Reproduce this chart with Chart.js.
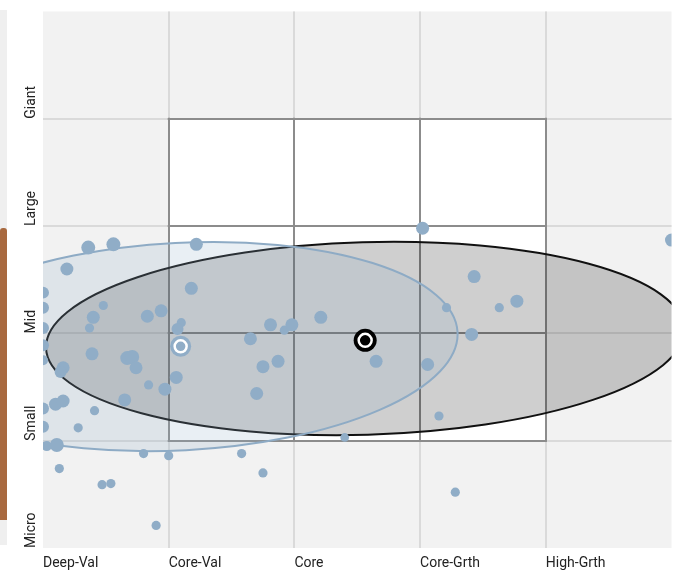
<!DOCTYPE html>
<html><head><meta charset="utf-8">
<script src="https://cdn.jsdelivr.net/npm/chart.js@4.4.1/dist/chart.umd.min.js"></script>
<style>
html,body{margin:0;padding:0;background:#fff;}
#wrap{position:relative;width:683px;height:573px;overflow:hidden;}
#strip{position:absolute;left:0;top:10px;width:7px;height:535px;background:#efefef;}
#strip2{position:absolute;left:0;top:228px;width:7px;height:292px;background:#a8693f;border-radius:3px 3px 0 0;}
canvas{position:absolute;left:0;top:0;}
</style></head><body>
<div id="wrap"><div id="strip"></div><div id="strip2"></div><canvas id="c" width="683" height="573"></canvas></div>
<script>
// ---- data ----
const styleLabels = ['Deep-Val', 'Core-Val', 'Core', 'Core-Grth', 'High-Grth'];
const sizeLabels = ['Micro', 'Small', 'Mid', 'Large', 'Giant'];
const holdingsX = [36, 56, 122, 19, 0, 0, 0, 118, 48, 40, 37, 83, 94, 110, 107, 0, 0, 39, 67, 71, 74, 16, 14, 84, 106, 97, 65, 10, 16, 0, 41, 0, 28, 3, 11, 80, 100, 13, 47, 54, 90, 165, 181, 192, 198, 221, 175, 187, 170, 158, 175, 265, 306, 315, 321, 302, 343, 363, 377, 341, 328, 500, 240];
const holdingsY = [280, 283, 283, 260, 238, 224, 205, 242, 226, 215, 205, 216, 221, 210, 204, 189, 175, 181, 177, 178, 168, 168, 164, 152, 159, 148, 138, 134, 137, 130, 128, 113, 112, 95, 96, 88, 86, 74, 59, 60, 21, 195, 208, 203, 208, 215, 169, 174, 144, 88, 70, 174, 171, 123, 224, 298, 253, 224, 230, 199, 52, 287, 103];
const holdingsWeight = [2.3, 2.3, 2, 2, 1.7, 1.7, 1.7, 2, 1, 2, 1, 2, 2, 1, 1.7, 1.7, 1.2, 2, 2.3, 2.3, 2, 2, 1.7, 1, 2, 2, 2, 2, 2, 1.7, 1, 1.7, 1, 1.2, 2.3, 1, 1, 1, 1, 1, 1, 2, 2, 1, 2, 2, 2, 2, 2, 1, 1, 2, 2, 1, 1, 2, 2, 1, 2, 2, 1, 2, 0.9];
const fundCentroid = [256.3, 193.5];
const benchCentroid = [109.5, 188];
// zone: centre x, centre y, half-width, half-height (axis units), tilt in degrees
const fundZone = [256.3, 195.2, 254, 89.7, 1.7];
const benchZone = [109.5, 187.7, 220.6, 96.7, 3];
const styleBoxRange = [100, 400];

// ---- styles ----
const FONT = {family: "'Liberation Sans Narrow', 'Roboto', sans-serif", size: 14};
const DOT = '#90adc7';

const bgPlugin = {
  id: 'bg',
  beforeDraw(chart) {
    const {ctx, chartArea: a} = chart;
    ctx.save();
    ctx.fillStyle = '#f2f2f2';
    ctx.fillRect(a.left, a.top, a.right - a.left, a.bottom - a.top);
    ctx.restore();
  },
  beforeDatasetsDraw(chart) {
    const {ctx, chartArea: a, scales: {x, y}} = chart;
    const [lo, hi] = styleBoxRange;
    const x0 = x.getPixelForValue(lo), x1 = x.getPixelForValue(hi);
    const y0 = y.getPixelForValue(hi), y1 = y.getPixelForValue(lo);
    ctx.save();
    ctx.fillStyle = '#ffffff';
    ctx.fillRect(x0, y0, x1 - x0, y1 - y0);
    ctx.strokeStyle = '#8c8c8c';
    ctx.lineWidth = 2;
    ctx.beginPath();
    for (let v = lo; v <= hi; v += 100) {
      const px = Math.round(x.getPixelForValue(v));
      ctx.moveTo(px, y0 - 1); ctx.lineTo(px, y1 + 1);
      const py = Math.round(y.getPixelForValue(v));
      ctx.moveTo(x0 - 1, py); ctx.lineTo(x1 + 1, py);
    }
    ctx.stroke();
    ctx.beginPath();
    ctx.rect(a.left, a.top, a.right - a.left, a.bottom - a.top);
    ctx.clip();
    const drawZone = (zone, fill, stroke) => {
      const [cx, cy, rx, ry, tilt] = zone;
      const px = x.getPixelForValue(cx), py = y.getPixelForValue(cy);
      const prx = Math.abs(x.getPixelForValue(cx + rx) - px);
      const pry = Math.abs(y.getPixelForValue(cy + ry) - py);
      ctx.beginPath();
      ctx.ellipse(px, py, prx, pry, -tilt * Math.PI / 180, 0, Math.PI * 2);
      ctx.fillStyle = fill; ctx.fill();
      ctx.lineWidth = 2; ctx.strokeStyle = stroke; ctx.stroke();
    };
    drawZone(fundZone, 'rgba(0,0,0,0.19)', '#111111');
    drawZone(benchZone, 'rgba(143,173,200,0.2)', '#8eabc5');
    ctx.restore();
  }
};

const holdings = holdingsX.map((v, i) => ({x: v, y: holdingsY[i]}));
const gridColor = c => (c.tick && (c.tick.value === 0 || c.tick.value === 500)) ? 'rgba(0,0,0,0)' : '#dadada';

new Chart(document.getElementById('c'), {
  type: 'scatter',
  data: {
    datasets: [
      {label: 'centroid-fund', data: [{x: fundCentroid[0], y: fundCentroid[1]}], order: 1,
       pointRadius: 6.5, backgroundColor: '#000', borderColor: '#fff', pointBorderWidth: 2.5},
      {label: 'centroid-bench', data: [{x: benchCentroid[0], y: benchCentroid[1]}], order: 1,
       pointRadius: 6, backgroundColor: DOT, borderColor: '#fff', pointBorderWidth: 2.5},
      {label: 'halo-fund', data: [{x: fundCentroid[0], y: fundCentroid[1]}], order: 2,
       pointRadius: 11.5, backgroundColor: '#000', borderWidth: 0},
      {label: 'halo-bench', data: [{x: benchCentroid[0], y: benchCentroid[1]}], order: 2,
       pointRadius: 10.5, backgroundColor: DOT, borderWidth: 0},
      {label: 'holdings', data: holdings, order: 3, clip: 0,
       pointRadius: c => Math.sqrt(holdingsWeight[c.dataIndex]) * 4.6,
       backgroundColor: DOT, borderWidth: 0, pointBorderWidth: 0}
    ]
  },
  options: {
    responsive: false,
    animation: false,
    events: [],
    layout: {padding: {left: 24, top: 10, right: 10, bottom: 0}},
    plugins: {legend: {display: false}, tooltip: {enabled: false}},
    scales: {
      x: {
        type: 'linear', min: 0, max: 500,
        border: {display: false},
        grid: {color: gridColor, lineWidth: 2, drawTicks: false},
        ticks: {stepSize: 100, align: 'start', padding: 7, color: '#222', font: FONT, maxRotation: 0,
                callback: v => (v < 500 ? styleLabels[Math.round(v / 100)] : null)},
        afterFit: s => { s.height = 25; s.paddingLeft = 0; s.paddingRight = 0; }
      },
      y: {
        type: 'linear', min: 0, max: 500,
        border: {display: false},
        grid: {color: gridColor, lineWidth: 2, drawTicks: false},
        ticks: {stepSize: 100, crossAlign: 'far', align: 'start', minRotation: 90, maxRotation: 90, color: '#222', font: FONT,
                callback: v => (v < 500 ? sizeLabels[Math.round(v / 100)] : null)},
        afterFit: s => { s.width = 19; s.paddingTop = 0; s.paddingBottom = 0; }
      }
    }
  },
  plugins: [bgPlugin]
});
</script>
</body></html>
